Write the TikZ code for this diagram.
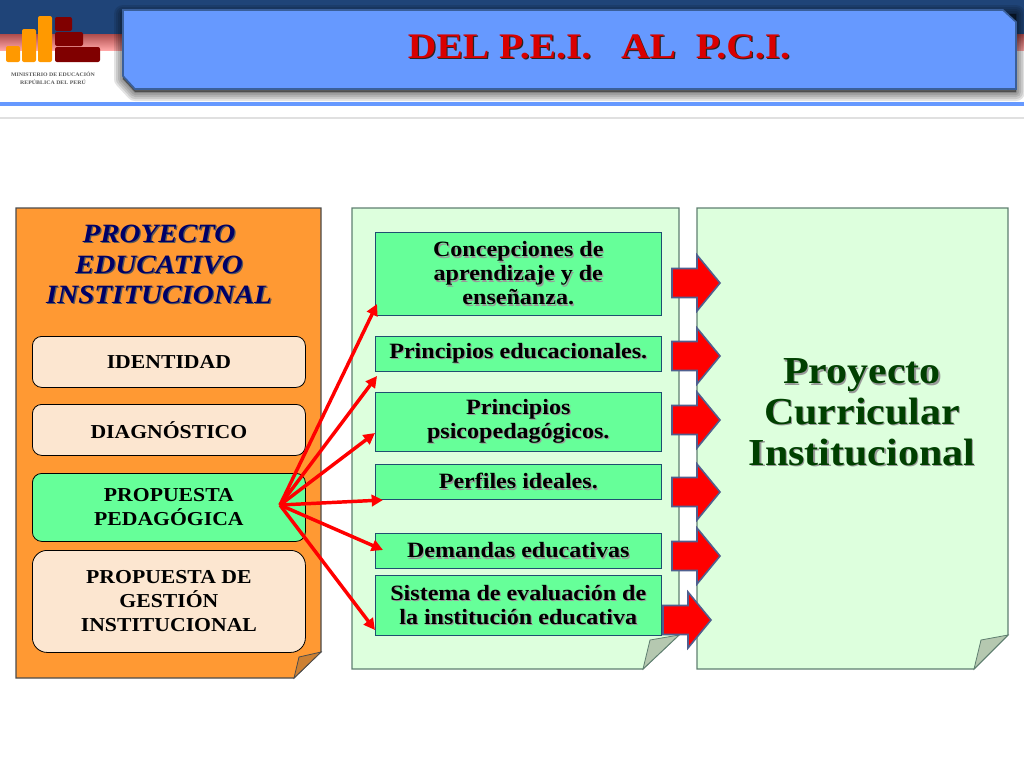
\documentclass[tikz,border=0pt]{standalone}
\usepackage{fontspec}
\setmainfont[FakeStretch=1.10]{Liberation Serif}
\usetikzlibrary{arrows.meta}
\definecolor{orangepanel}{HTML}{FF9933}
\definecolor{orangefold}{HTML}{CC8033}
\definecolor{creambox}{HTML}{FCE6D0}
\definecolor{greenbox}{HTML}{66FF99}
\definecolor{greenpanel}{HTML}{DDFFDD}
\definecolor{greenfold}{HTML}{B5C8B0}
\definecolor{panelline}{HTML}{5F7F70}
\definecolor{boxline}{HTML}{1F4F70}
\definecolor{bluepanel}{HTML}{6699FF}
\definecolor{bluedark}{HTML}{1F4478}
\definecolor{blueedge}{HTML}{3A5F9A}
\definecolor{arrowline}{HTML}{4F5F8F}
\definecolor{logored}{HTML}{800000}
\definecolor{logoorange}{HTML}{FF9900}
\definecolor{headnavy}{HTML}{000066}
\newcommand{\sh}[2][black!40]{\leavevmode\rlap{\kern0.9pt\raisebox{-0.9pt}{\textcolor{#1}{#2}}}#2}
\tikzset{
  roundbox/.style={draw=black, line width=0.6pt, fill=creambox, rounded corners=7pt, inner sep=0pt, align=center,
    font=\fontsize{14.8}{18}\selectfont\bfseries},
  greenitem/.style={draw=boxline, line width=0.8pt, fill=greenbox, inner sep=0pt, align=center,
    font=\fontsize{16.4}{18}\selectfont\bfseries},
  redline/.style={-{Triangle[length=8.5pt,width=8.5pt]}, red, line width=2.6pt},
  blockarrow/.style={draw=arrowline, line width=1.2pt, fill=red, line join=miter},
  panelpath/.style={draw=panelline, line width=0.8pt, fill=greenpanel},
  foldpath/.style={draw=panelline, line width=0.6pt, fill=greenfold}
}
\begin{document}
\begin{tikzpicture}[x=0.75pt, y=-0.75pt]
\useasboundingbox (0,0) rectangle (1024,768);
\fill[bluedark] (0,0) rectangle (1024,34);
\shade[top color=red!55!black!70!white, bottom color=red!35!white] (0,34) rectangle (1024,50);
\fill[bluepanel] (0,102) rectangle (1024,106);
\fill[black!12] (0,117) rectangle (1024,119);
\foreach \w in {18,14,10,6,2}
    \filldraw[black, opacity=0.11, line width=\w*0.75pt, line join=round]
        (123,14) -- (1016,14) -- (1016,92) -- (135,92) -- (123,79) -- cycle;
\filldraw[draw=blueedge, fill=bluepanel, line width=1.2pt]
    (123,10) -- (1003,10) -- (1016,22) -- (1016,89) -- (135,89) -- (123,76) -- cycle;
\node[font=\fontsize{27}{30}\selectfont\bfseries, text=red!85!black] (title) at (599,47)
    {\sh[black!85]{DEL P.E.I.\ \ \ AL\ \ P.C.I.}};
\foreach \x/\yt/\xe in {6/46/20, 22/29/36, 38/16/52}
    \fill[logoorange, rounded corners=1.5pt] (\x,\yt) rectangle (\xe,62);
\foreach \yt/\xe/\ye in {17/72/31, 32/83/46, 47/100/62}
    \fill[logored, rounded corners=1.5pt] (55,\yt) rectangle (\xe,\ye);
\node[font=\fontsize{4}{6}\selectfont\bfseries, text=black!65, align=center] (ministerio) at (53,78)
    {MINISTERIO DE EDUCACIÓN\\REPÚBLICA DEL PERÚ};
\filldraw[draw=black!70, fill=orangepanel, line width=0.8pt]
    (16,208) -- (321,208) -- (321,652) -- (294,678) -- (16,678) -- cycle;
\filldraw[draw=black!70, fill=orangefold, line width=0.6pt] (321,652) -- (299,657) -- (294,678) -- cycle;
\node[font=\fontsize{19.8}{23}\selectfont\bfseries\itshape, text=headnavy, align=center] (proyecto) at (159,265)
    {\sh[black!65]{PROYECTO}\\\sh[black!65]{EDUCATIVO}\\\sh[black!65]{INSTITUCIONAL}};
\foreach \n/\yt/\h/\t in {identidad/336/51/{IDENTIDAD},
                          diagnostico/404/51/{DIAGNÓSTICO}}
    \node[roundbox, minimum width=273*0.75pt, minimum height=\h*0.75pt, anchor=north west] (\n) at (32,\yt) {\t};
\node[roundbox, fill=greenbox, minimum width=273*0.75pt, minimum height=68*0.75pt, anchor=north west] (pedagogica) at (32,473)
    {PROPUESTA\\PEDAGÓGICA};
\node[roundbox, rounded corners=11pt, minimum width=273*0.75pt, minimum height=102*0.75pt, anchor=north west] (gestion) at (32,550)
    {PROPUESTA DE\\GESTIÓN\\INSTITUCIONAL};
\filldraw[panelpath] (352,208) -- (679,208) -- (679,635) -- (643,669) -- (352,669) -- cycle;
\filldraw[foldpath] (679,635) -- (650,640) -- (643,669) -- cycle;
\filldraw[panelpath] (697,208) -- (1008,208) -- (1008,635) -- (974,669) -- (697,669) -- cycle;
\filldraw[foldpath] (1008,635) -- (981,640) -- (974,669) -- cycle;
\foreach \n/\yt/\h/\t in {concepciones/232/83/{\sh{Concepciones de}\\\sh{aprendizaje y de}\\\sh{enseñanza.}},
                          principios/336/35/{\sh{Principios educacionales.}},
                          psico/392/59/{\sh{Principios}\\\sh{psicopedagógicos.}},
                          perfiles/464/35/{\sh{Perfiles ideales.}},
                          demandas/533/35/{\sh{Demandas educativas}},
                          sistema/575/60/{\sh{Sistema de evaluación de}\\\sh{la institución educativa}}}
    \node[greenitem, minimum width=285.5*0.75pt, minimum height=\h*0.75pt, anchor=north west] (\n) at (375,\yt) {\t};
\coordinate (hub) at (280,505);
\foreach \n/\x/\y in {tipa/377/304, tipb/377/376, tipc/375/433, tipd/383/500, tipe/383/550, tipf/375/630}
    \coordinate (\n) at (\x,\y);
\foreach \n in {tipa, tipb, tipc, tipd, tipe, tipf}
    \draw[redline] (hub) -- (\n);
\foreach \x/\y in {672/283, 672/356, 672/420, 672/492, 672/556, 663/620}
    \filldraw[blockarrow] (\x,\y-14.5) -- (\x+25,\y-14.5) -- (\x+25,\y-28) -- (\x+48,\y)
        -- (\x+25,\y+28) -- (\x+25,\y+14.5) -- (\x,\y+14.5) -- cycle;
\node[font=\fontsize{28.6}{30.5}\selectfont\bfseries, text=green!25!black, align=center] (curricular) at (862,413)
    {\sh{Proyecto}\\\sh{Curricular}\\\sh{Institucional}};
\end{tikzpicture}
\end{document}
